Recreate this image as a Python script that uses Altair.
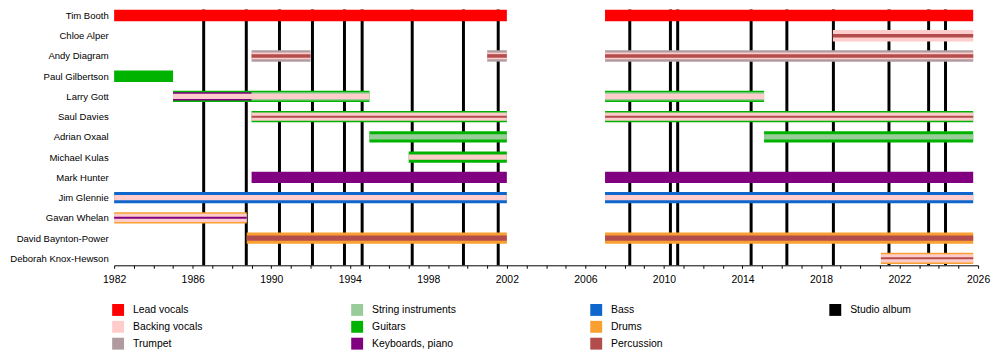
import altair as alt
import pandas as pd

FONT = "Liberation Sans"
NOW = 2025.75

members = ["Tim Booth", "Chloe Alper", "Andy Diagram", "Paul Gilbertson", "Larry Gott",
           "Saul Davies", "Adrian Oxaal", "Michael Kulas", "Mark Hunter", "Jim Glennie",
           "Gavan Whelan", "David Baynton-Power", "Deborah Knox-Hewson"]

# legend order (column-major, 3 rows x 4 columns; " " and "  " are empty slots)
roles = ["Lead vocals", "Backing vocals", "Trumpet",
         "String instruments", "Guitars", "Keyboards, piano",
         "Bass", "Drums", "Percussion",
         "Studio album", " ", "  "]
role_colors = ["#ff0000", "#ffcccc", "#b09ca0",
               "#99cc99", "#00b300", "#800080",
               "#0f66cc", "#f9a030", "#b34d4d",
               "#000000", "#ffffff", "#ffffff"]

seg_member = [
    "Tim Booth", "Tim Booth",
    "Chloe Alper", "Chloe Alper",
    "Andy Diagram", "Andy Diagram", "Andy Diagram",
    "Andy Diagram", "Andy Diagram", "Andy Diagram",
    "Andy Diagram", "Andy Diagram", "Andy Diagram",
    "Paul Gilbertson",
    "Larry Gott", "Larry Gott", "Larry Gott", "Larry Gott", "Larry Gott", "Larry Gott", "Larry Gott",
    "Saul Davies", "Saul Davies", "Saul Davies", "Saul Davies", "Saul Davies", "Saul Davies",
    "Adrian Oxaal", "Adrian Oxaal", "Adrian Oxaal", "Adrian Oxaal",
    "Michael Kulas", "Michael Kulas",
    "Mark Hunter", "Mark Hunter",
    "Jim Glennie", "Jim Glennie", "Jim Glennie", "Jim Glennie",
    "Gavan Whelan", "Gavan Whelan", "Gavan Whelan",
    "David Baynton-Power", "David Baynton-Power", "David Baynton-Power", "David Baynton-Power",
    "Deborah Knox-Hewson", "Deborah Knox-Hewson", "Deborah Knox-Hewson",
]
seg_role = [
    "Lead vocals", "Lead vocals",
    "Backing vocals", "Percussion",
    "Trumpet", "Trumpet", "Trumpet",
    "Backing vocals", "Backing vocals", "Backing vocals",
    "Percussion", "Percussion", "Percussion",
    "Guitars",
    "Guitars", "Guitars", "Keyboards, piano", "String instruments", "String instruments",
    "Backing vocals", "Backing vocals",
    "Guitars", "Guitars", "Backing vocals", "Backing vocals", "Percussion", "Percussion",
    "Guitars", "Guitars", "String instruments", "String instruments",
    "Guitars", "Backing vocals",
    "Keyboards, piano", "Keyboards, piano",
    "Bass", "Bass", "Backing vocals", "Backing vocals",
    "Drums", "Backing vocals", "Keyboards, piano",
    "Drums", "Drums", "Percussion", "Percussion",
    "Drums", "Backing vocals", "Percussion",
]
# stacking level of each stripe (1 = main bar, higher = thinner overlay)
seg_level = [
    1, 1,
    1, 3.5,
    1, 1, 1,
    2.5, 2.5, 2.5,
    3.5, 3.5, 3.5,
    1,
    1, 1, 2, 2, 2, 3, 3,
    1, 1, 2, 2, 4, 4,
    1, 1, 3, 3,
    1, 3,
    1, 1,
    1, 1, 3, 3,
    1, 2, 4,
    1, 1, 3, 3,
    1, 2, 4,
]
seg_start = [
    1982, 2007,
    2018.6, 2018.6,
    1989, 2001, 2007,
    1989, 2001, 2007,
    1989, 2001, 2007,
    1982,
    1985, 2007, 1985, 1989, 2007, 1985, 2007,
    1989, 2007, 1989, 2007, 1989, 2007,
    1995, 2015.1, 1995, 2015.1,
    1997, 1997,
    1989, 2007,
    1982, 2007, 1982, 2007,
    1982, 1982, 1982,
    1988.75, 2007, 1988.75, 2007,
    2021.05, 2021.05, 2021.05,
]
seg_end = [
    2002, NOW,
    NOW, NOW,
    1992, 2002, NOW,
    1992, 2002, NOW,
    1992, 2002, NOW,
    1985,
    1995, 2015.1, 1989, 1995, 2015.1, 1995, 2015.1,
    2002, NOW, 2002, NOW, 2002, NOW,
    2002, NOW, 2002, NOW,
    2002, 2002,
    2002, NOW,
    2002, NOW, 2002, NOW,
    1988.75, 1988.75, 1988.75,
    2002, NOW, 2002, NOW,
    NOW, NOW, NOW,
]

album_years = [1986.56, 1988.73, 1990.42, 1992.1, 1993.73, 1994.63, 1997.18, 1999.79,
               2001.56, 2008.26, 2010.33, 2010.7, 2014.44, 2016.26, 2018.63, 2021.46,
               2023.48, 2024.34]

year_ticks = list(range(1982, 2027))

# ---------------------------------------------------------------------------
seg = pd.DataFrame({"member": seg_member, "role": seg_role, "level": seg_level,
                    "start": seg_start, "end": seg_end})
seg["row"] = seg["member"].map({m: i for i, m in enumerate(members)})
seg = seg.sort_values("level", kind="stable").reset_index(drop=True)

albums = pd.DataFrame({"year": album_years})

W, H = 871, 258

xscale = alt.Scale(domain=[1982, 2026], nice=False, zero=False, padding=0)
xaxis = alt.Axis(values=year_ticks, format="d",
                 labelExpr="(datum.value - 1982) % 4 == 0 ? datum.label : ''",
                 tickSize=3, tickColor="black", domainColor="black", domainWidth=1,
                 labelPadding=6, labelFont=FONT, labelFontSize=10.5, labelColor="black",
                 grid=False, title=None, labelOverlap=False, labelFlush=False)

name_expr = "[" + ",".join("'" + m + "'" for m in members) + "][datum.value]"
yscale = alt.Scale(domain=[-0.3, 12.344], reverse=True, nice=False, zero=False, padding=0)
yaxis = alt.Axis(values=list(range(len(members))), labelExpr=name_expr, ticks=False,
                 domain=False, grid=False, title=None, labelPadding=6, labelFont=FONT,
                 labelFontSize=9.6, labelColor="black", labelOverlap=False,
                 labelFlush=False)

album_layer = alt.Chart(albums).mark_rule(color="black", strokeWidth=3).encode(
    x=alt.X("year:Q", scale=xscale, axis=xaxis)
)

bar_layer = alt.Chart(seg).mark_bar(orient="horizontal").encode(
    x=alt.X("start:Q", scale=xscale, axis=xaxis),
    x2="end:Q",
    y=alt.Y("row:Q", scale=yscale, axis=yaxis),
    size=alt.Size("level:Q", scale=alt.Scale(domain=[1, 4], range=[11.5, 2]), legend=None),
    color=alt.Color("role:N", scale=alt.Scale(domain=roles, range=role_colors),
                    legend=alt.Legend(orient="none", legendX=-2, legendY=297, columns=4,
                                      gridAlign="all", columnPadding=135, rowPadding=5,
                                      symbolType="square", symbolSize=144,
                                      symbolStrokeWidth=0, symbolOpacity=1,
                                      labelFont=FONT, labelFontSize=10.5,
                                      labelColor="black", labelOffset=9, title=None,
                                      padding=0)),
)

chart = alt.layer(album_layer, bar_layer).properties(
    width=W, height=H,
    padding={"left": 107, "top": 0, "right": 14, "bottom": 85},
    autosize=alt.AutoSizeParams(type="none"),
).configure_view(stroke=None)

chart.save("out.html", embed_options={"renderer": "svg", "actions": False})
